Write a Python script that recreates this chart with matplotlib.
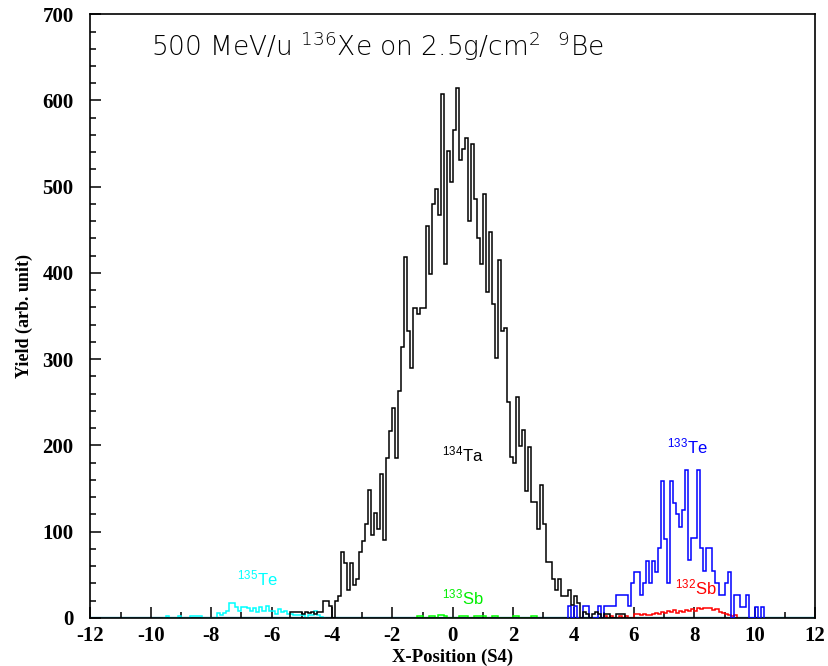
import numpy as np
import matplotlib
matplotlib.use("Agg")
import matplotlib.pyplot as plt
from matplotlib.ticker import MultipleLocator

plt.rcParams['font.family'] = ['Liberation Sans', 'DejaVu Sans']
plt.rcParams['mathtext.fontset'] = 'custom'
plt.rcParams['mathtext.rm'] = 'Liberation Sans'
plt.rcParams['axes.unicode_minus'] = False

# yields per 0.1-wide bin of X-position, each list starts at its own left edge
ta134_start = -5.4
ta134 = [7, 7, 7, 7, 5, 7, 6, 7, 5, 7, 7,
         20, 20, 14, 0, 20, 26,
         77, 64, 32, 64, 38, 45, 77, 89, 109, 148,
         96, 122, 103, 167, 90, 185, 217, 243, 185, 263,
         314, 418, 333, 290, 359, 353, 359, 359, 455, 399,
         480, 497, 467, 608, 411, 541, 505, 566, 614,
         531, 544, 556, 460, 550, 486, 441, 410, 492, 378,
         447, 364, 301, 415, 333, 336, 250, 187, 180, 256,
         199, 218, 147, 198, 135, 135, 103, 154, 109, 65,
         65, 45, 32, 45, 25, 25, 32, 15, 25, 17,
         0, 7, 5, 0, 5, 7, 5, 0, 5, 5, 0, 0, 5, 5, 5]

te133_start = 3.8
te133 = [14, 0, 14, 0, 0, 14, 14, 0, 0, 0,
         14, 0, 14, 14, 14, 14, 27, 27, 27, 27,
         14, 40, 53, 53, 27, 40, 66, 40, 66, 53,
         81, 159, 92, 41, 159, 133, 120, 106, 125, 172,
         67, 93, 93, 172, 81, 54, 81, 81, 54, 40,
         27, 27, 40, 53, 0, 27, 27, 13, 13, 27,
         0, 0, 13, 0, 13]

sb132_start = 5.0
sb132 = [2, 0, 2, 0, 0, 2, 0, 2, 0, 0,
         5, 5, 3, 5, 3, 4, 5, 6, 5, 7,
         6, 8, 7, 9, 6, 8, 7, 9, 8, 10,
         8, 11, 10, 12, 11, 11, 9, 10, 7, 6,
         5, 4, 2, 3]

sb133_start = -1.2
sb133 = [2, 2, 0, 0, 2, 2, 0, 3, 3, 2,
         0, 0, 0, 0, 2, 2, 2, 0, 0, 2,
         2, 2, 2, 0, 0, 2, 2, 0, 0, 0,
         0, 0, 2, 2, 0, 0, 0, 0, 2, 2]

te135_start = -9.6
te135 = [0, 2, 0, 0, 0, 2, 0, 0, 0, 2,
         2, 2, 2, 0, 0, 0, 0, 0, 6, 4,
         6, 8, 17, 17, 13, 8, 13, 13, 11, 8,
         12, 7, 13, 8, 14, 8, 8, 5, 10, 7,
         8, 5, 5, 4, 3, 3, 3, 0, 4, 4,
         8, 4, 1, 0]


def edges(start, vals):
    return np.round(start + 0.1 * np.arange(len(vals) + 1), 2)


fig = plt.figure(figsize=(8.29, 6.66), dpi=100)
ax = fig.add_axes([0.109, 0.0721, 0.8743, 0.9065])

ax.axhline(0, color='#1b96b4', lw=2.4, zorder=1)
ax.stairs(te135, edges(te135_start, te135), color='#00ffff', lw=1.1, zorder=2)
ax.stairs(sb133, edges(sb133_start, sb133), color='#00ff00', lw=1.1, zorder=2)
ax.stairs(sb132, edges(sb132_start, sb132), color='#ff0000', lw=1.1, zorder=2)
ax.stairs(te133, edges(te133_start, te133), color='#0000ff', lw=1.1, zorder=3)
ax.stairs(ta134, edges(ta134_start, ta134), color='black', lw=1.1, zorder=4)

# isotope labels
lab = dict(fontsize=12, ha='left', va='baseline')
ax.text(-0.35, 182, r'$\mathregular{^{134}}$Ta', color='black', **lab)
ax.text(7.1, 191, r'$\mathregular{^{133}}$Te', color='#0000ff', **lab)
ax.text(7.35, 27, r'$\mathregular{^{132}}$Sb', color='#ff0000', **lab)
ax.text(-0.35, 16, r'$\mathregular{^{133}}$Sb', color='#00ee00', **lab)
ax.text(-7.15, 38, r'$\mathregular{^{135}}$Te', color='#00ffff', **lab)

ax.text(-10.0, 652, r'500 MeV/u $\mathregular{^{136}}$Xe on 2.5g/cm$\mathregular{^{2}}$  '
        r'$\mathregular{^{9}}$Be', fontsize=19, ha='left', va='baseline',
        family='DejaVu Sans', fontweight='light')

ax.set_xlim(-12, 12)
ax.set_ylim(0, 700)
ax.xaxis.set_major_locator(MultipleLocator(2))
ax.xaxis.set_minor_locator(MultipleLocator(1))
ax.yaxis.set_major_locator(MultipleLocator(100))
ax.yaxis.set_minor_locator(MultipleLocator(20))
ax.tick_params(which='both', direction='in', top=False, right=False, width=1.1)
ax.tick_params(which='major', length=8)
ax.tick_params(which='minor', length=4.5)
ax.tick_params(axis='x', pad=6)
ax.tick_params(axis='y', pad=12)
for s in ax.spines.values():
    s.set_linewidth(1.2)

serif = dict(family='Liberation Serif', weight='bold')
for t in ax.get_xticklabels() + ax.get_yticklabels():
    t.set_fontfamily('Liberation Serif')
    t.set_fontweight('bold')
    t.set_fontsize(15)

ax.set_xlabel('X-Position (S4)', fontsize=13.5, labelpad=2, **serif)
ax.set_ylabel('Yield (arb. unit)', fontsize=13, labelpad=7, **serif)

fig.savefig('out.png', dpi=100)
